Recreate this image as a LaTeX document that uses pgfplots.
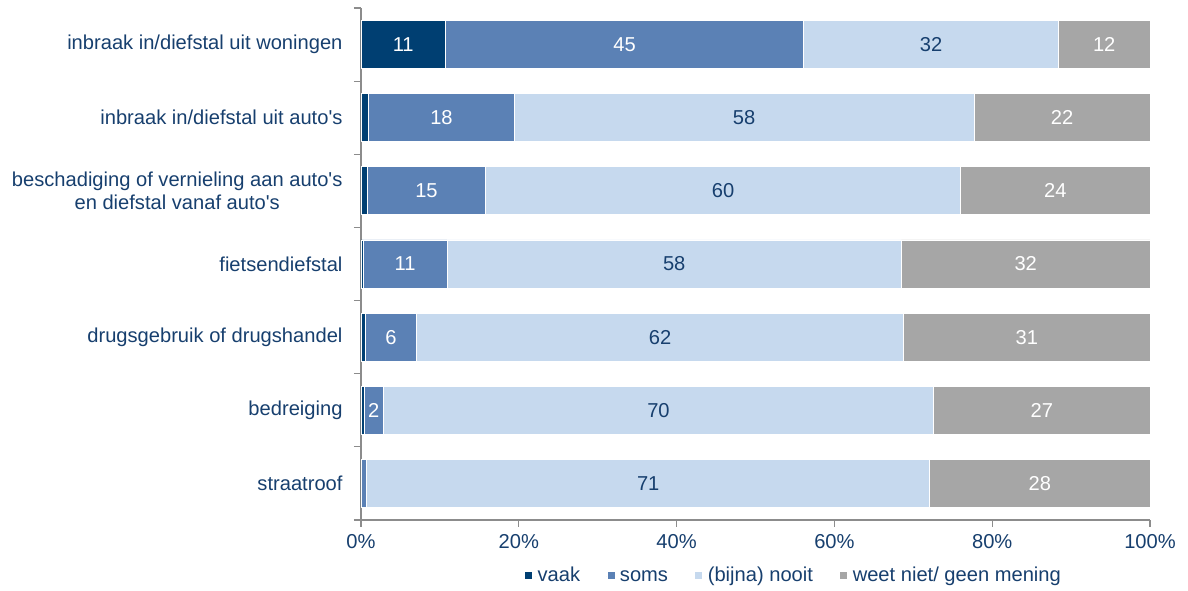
\documentclass[border=0pt]{standalone}
\usepackage{pgfplots}
\pgfplotsset{compat=1.18}
\usepackage{pgfplotstable}
\usepackage{fontspec}
\setmainfont{Liberation Sans}

\definecolor{vaak}{HTML}{003F72}
\definecolor{soms}{HTML}{5B81B5}
\definecolor{nooit}{HTML}{C6D9EE}
\definecolor{weetniet}{HTML}{A6A6A6}
\definecolor{txtblue}{HTML}{173F6E}
\definecolor{axgray}{HTML}{8C8C8C}

\newcommand{\ap}{\textquotesingle}
\newcommand{\chartfont}{\fontsize{20.2}{23}\selectfont}

% c = row (6 = top), v = share in %, l = printed label ({} = none)
\pgfplotstableread{
c  v1    l1  v2    l2  v3    l3  v4    l4
6  10.7  11  45.4  45  32.3  32  11.6  12
5  1.0   {}  18.4  18  58.3  58  22.3  22
4  0.8   {}  15.0  15  60.2  60  24.0  24
3  0.3   {}  10.6  11  57.6  58  31.5  32
2  0.6   {}  6.4   6   61.8  62  31.2  31
1  0.4   {}  2.4   2   69.8  70  27.4  27
0  0.1   {}  0.6   {}  71.4  71  27.9  28
}\data

\begin{document}
\begin{tikzpicture}
\begin{axis}[
    name=ax,
    xbar stacked,
    scale only axis,
    width=789bp, height=512bp,
    bar width=48bp,
    xmin=0, xmax=100,
    ymin=-0.5, ymax=6.5,
    axis lines*=left,
    axis line style={draw=axgray, line width=1.2pt, -},
    tick align=outside,
    tick style={draw=axgray, line width=1.2pt},
    major tick length=7bp,
    xtick={0,20,...,100},
    xticklabels={0\%,20\%,40\%,60\%,80\%,100\%},
    ytick={0,...,6},
    yticklabels={straatroof, bedreiging, drugsgebruik of drugshandel, fietsendiefstal,
      {beschadiging of vernieling aan auto\ap s\\en diefstal vanaf auto\ap s},
      inbraak in/diefstal uit auto\ap s, inbraak in/diefstal uit woningen},
    y tick style={draw=none},
    minor ytick={-0.5,0.5,...,6.5},
    minor y tick style={draw=axgray, line width=1.2pt},
    minor tick length=7bp,
    ticklabel style={font=\chartfont, text=txtblue},
    yticklabel style={align=center, xshift=-8bp},
    xticklabel style={yshift=-4bp},
    every axis plot/.append style={draw=white, line width=0.8pt},
    point meta=explicit symbolic,
    nodes near coords,
    every node near coord/.append style={anchor=center, font=\chartfont},
    legend columns=-1,
    legend style={draw=none, at={(axis description cs:0.548,-0.111)}, anchor=center,
      font=\chartfont, text=txtblue,
      nodes={text height=14bp, text depth=4bp},
      /tikz/every even column/.append style={column sep=24bp}},
    legend image code/.code={\path (-1bp,0) -- (10bp,0);
      \fill[#1, draw=none] (0bp,-2bp) rectangle (7bp,5bp);},
    clip=false,
]
\addplot[fill=vaak, nodes near coords style={text=white}] table[x=v1, y=c, meta=l1] {\data};
\addplot[fill=soms, nodes near coords style={text=white}] table[x=v2, y=c, meta=l2] {\data};
\addplot[fill=nooit, nodes near coords style={text=txtblue}] table[x=v3, y=c, meta=l3] {\data};
\addplot[fill=weetniet, nodes near coords style={text=white}] table[x=v4, y=c, meta=l4] {\data};
\legend{vaak, soms, (bijna) nooit, weet niet/ geen mening}
\end{axis}
\pgfresetboundingbox
\path[use as bounding box] ([xshift=-361bp, yshift=-71bp]ax.south west)
  rectangle ([xshift=38bp, yshift=8bp]ax.north east);
\end{tikzpicture}
\end{document}
